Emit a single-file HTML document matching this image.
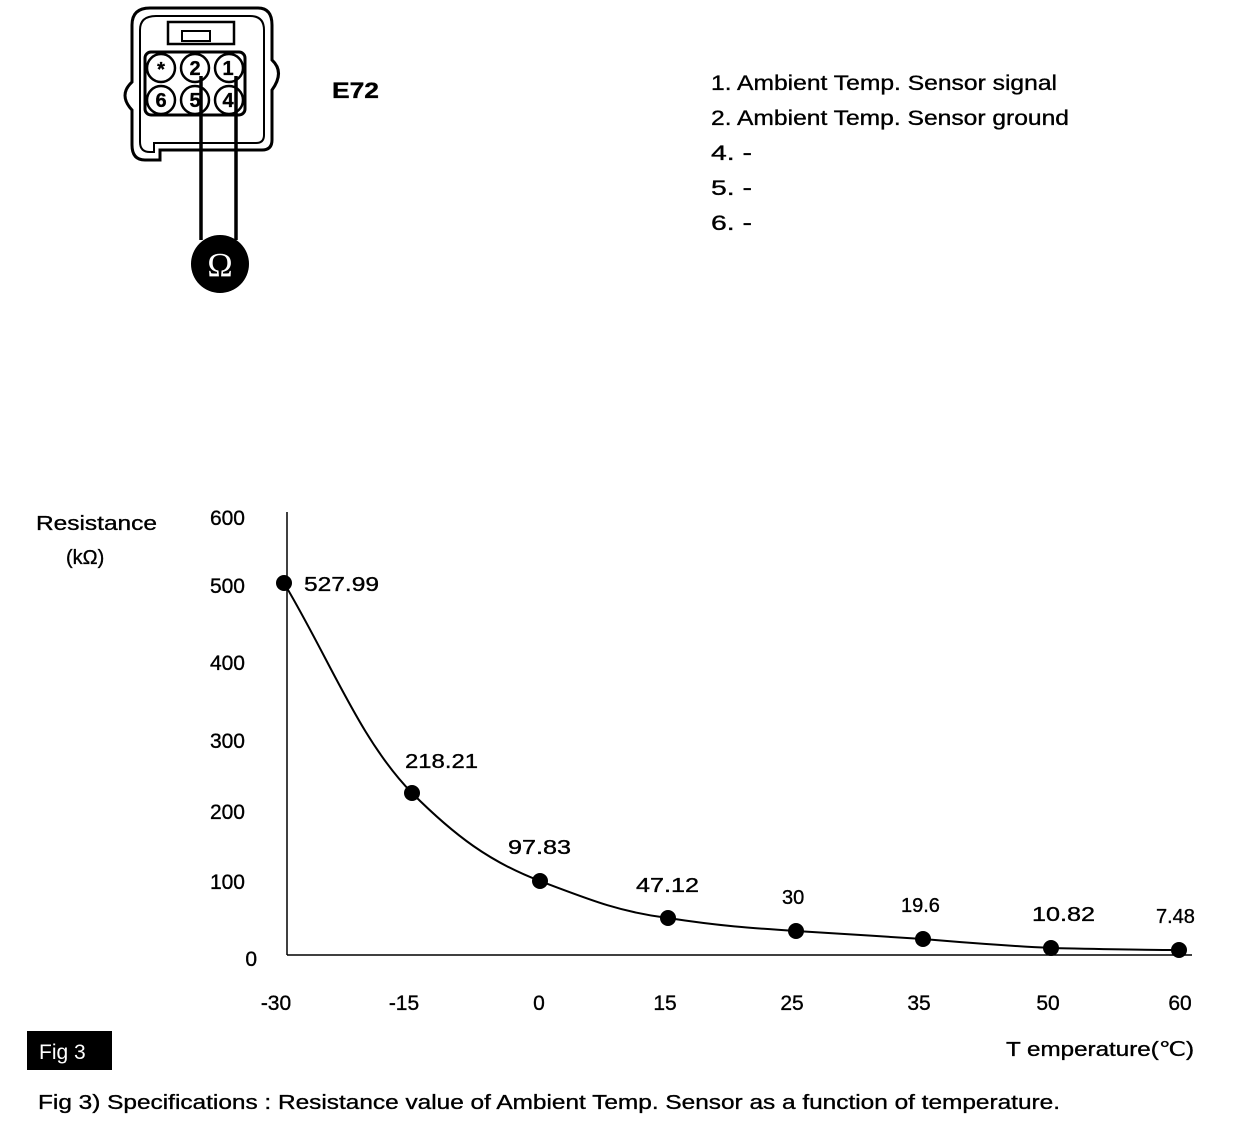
<!DOCTYPE html>
<html><head><style>body{margin:0;background:#fff}svg{display:block}text{font-family:"Liberation Sans",Arial,sans-serif;fill:#000;stroke:#000;stroke-width:0.35}</style></head>
<body>
<svg width="1248" height="1130" viewBox="0 0 1248 1130" xmlns="http://www.w3.org/2000/svg">
<g fill="none" stroke="#000" stroke-width="3">
<path d="M150,8 H258 Q272,8 272,25 V60 Q285,72 272,90 V140 Q272,150 262,150 H160 V160 H145 Q132,160 132,145 V110 Q118,95 132,82 V25 Q132,8 150,8 Z"/>
<path d="M156,16 H250 Q264,16 264,30 V135 Q264,143 256,143 H154 V152 H150 Q140,152 140,142 V30 Q140,16 156,16 Z" stroke-width="2"/>
<rect x="168" y="22" width="66" height="22" stroke-width="2.5"/>
<rect x="182" y="31" width="28" height="10" stroke-width="2"/>
<rect x="145" y="52" width="100" height="63" rx="6"/>
</g>
<g fill="#fff" stroke="#000" stroke-width="2.5">
<circle cx="161" cy="68" r="14"/><circle cx="195" cy="68" r="14"/><circle cx="229" cy="68" r="14"/>
<circle cx="161" cy="100" r="14"/><circle cx="195" cy="100" r="14"/><circle cx="229" cy="100" r="14"/>
</g>
<g font-weight="bold" font-size="20" text-anchor="middle">
<text x="161" y="76">*</text><text x="195" y="75">2</text><text x="228" y="75">1</text>
<text x="161" y="107">6</text><text x="195" y="107">5</text><text x="228" y="107">4</text>
</g>
<g stroke="#000" stroke-width="3.5"><line x1="201" y1="76" x2="201" y2="240"/><line x1="236" y1="76" x2="236" y2="240"/></g>
<circle cx="220" cy="264" r="29" fill="#000"/>
<text x="220" y="276" font-size="34" text-anchor="middle" style="fill:#fff;stroke:none;font-family:'Liberation Serif',serif">Ω</text>
<text x="332" y="98" font-size="22" font-weight="bold" textLength="47" lengthAdjust="spacingAndGlyphs">E72</text>
<g font-size="21" lengthAdjust="spacingAndGlyphs">
<text x="711" y="90" textLength="346" lengthAdjust="spacingAndGlyphs">1. Ambient Temp. Sensor signal</text>
<text x="711" y="125" textLength="358" lengthAdjust="spacingAndGlyphs">2. Ambient Temp. Sensor ground</text>
<text x="711" y="160" textLength="41" lengthAdjust="spacingAndGlyphs">4.  -</text>
<text x="711" y="195" textLength="41" lengthAdjust="spacingAndGlyphs">5.  -</text>
<text x="711" y="230" textLength="41" lengthAdjust="spacingAndGlyphs">6.  -</text>
</g>
<g stroke="#000" stroke-width="1.5"><line x1="287" y1="512" x2="287" y2="955"/><line x1="287" y1="955" x2="1192" y2="955"/></g>
<g font-size="21" text-anchor="end">
<text x="245" y="525">600</text><text x="245" y="593">500</text><text x="245" y="670">400</text>
<text x="245" y="748">300</text><text x="245" y="819">200</text><text x="245" y="889">100</text><text x="257" y="966">0</text>
</g>
<text x="36" y="530" font-size="20" textLength="121" lengthAdjust="spacingAndGlyphs">Resistance</text>
<text x="66" y="564" font-size="20">(kΩ)</text>
<g font-size="21" text-anchor="middle">
<text x="276" y="1010">-30</text><text x="404" y="1010">-15</text><text x="539" y="1010">0</text><text x="665" y="1010">15</text>
<text x="792" y="1010">25</text><text x="919" y="1010">35</text><text x="1048" y="1010">50</text><text x="1180" y="1010">60</text>
</g>
<path d="M284,583 C330,660 360,740 412,793 C455,836 490,862 540,881 C590,900 620,912 668,918 C720,926 750,928 796,931 C840,934 880,936 923,939 C970,943 1010,946 1051,948 C1100,949 1140,950 1179,950" fill="none" stroke="#000" stroke-width="2"/>
<g fill="#000">
<circle cx="284" cy="583" r="8"/><circle cx="412" cy="793" r="8"/><circle cx="540" cy="881" r="8"/><circle cx="668" cy="918" r="8"/>
<circle cx="796" cy="931" r="8"/><circle cx="923" cy="939" r="8"/><circle cx="1051" cy="948" r="8"/><circle cx="1179" cy="950" r="8"/>
</g>
<g font-size="20">
<text x="304" y="591" textLength="75" lengthAdjust="spacingAndGlyphs">527.99</text>
<text x="405" y="768" textLength="73" lengthAdjust="spacingAndGlyphs">218.21</text>
<text x="508" y="854" textLength="63" lengthAdjust="spacingAndGlyphs">97.83</text>
<text x="636" y="892" textLength="63" lengthAdjust="spacingAndGlyphs">47.12</text>
<text x="782" y="904">30</text>
<text x="901" y="912">19.6</text>
<text x="1032" y="921" textLength="63" lengthAdjust="spacingAndGlyphs">10.82</text>
<text x="1156" y="923">7.48</text>
</g>
<text x="1006" y="1056" font-size="20" textLength="188" lengthAdjust="spacingAndGlyphs">T emperature(℃)</text>
<rect x="27" y="1031" width="85" height="39" fill="#000"/>
<text x="39" y="1059" font-size="21" style="fill:#fff;stroke:none">Fig 3</text>
<text x="38" y="1109" font-size="20" textLength="1022" lengthAdjust="spacingAndGlyphs">Fig 3) Specifications : Resistance value of Ambient Temp. Sensor as a function of temperature.</text>
</svg>
</body></html>
